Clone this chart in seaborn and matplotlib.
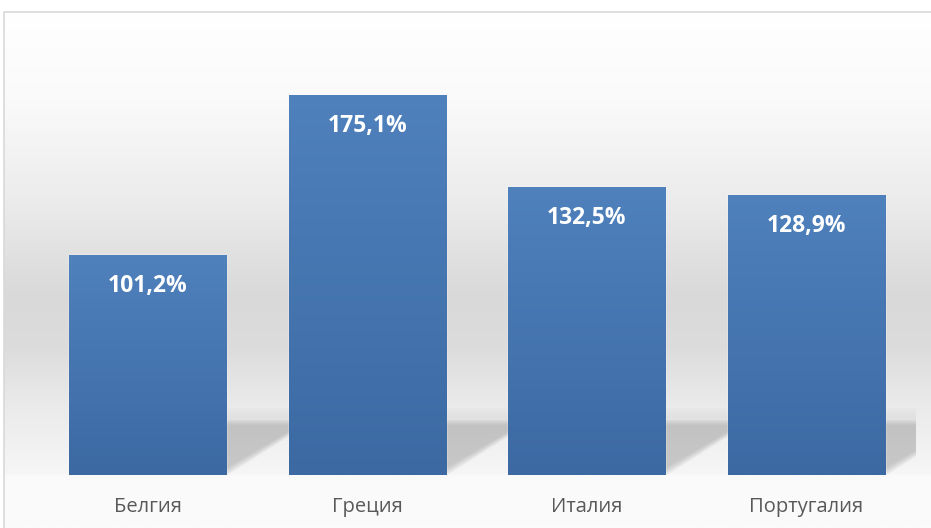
import numpy as np
import pandas as pd
import seaborn as sns
import matplotlib.pyplot as plt
from matplotlib.patches import Polygon, Rectangle
from matplotlib.colors import LinearSegmentedColormap

countries = ["Белгия", "Греция", "Италия", "Португалия"]
debt_pct = [101.2, 175.1, 132.5, 128.9]
value_labels = ["101,2%", "175,1%", "132,5%", "128,9%"]

df = pd.DataFrame({"country": countries, "debt": debt_pct})

sns.set_theme(style="white")
plt.rcParams["font.family"] = ["Open Sans", "DejaVu Sans"]

W, H = 931, 528
fig = plt.figure(figsize=(W / 100, H / 100), dpi=100)
fig.patch.set_facecolor("white")

# background gradient (plot area)
bg = fig.add_axes([4 / W, 0, 1 - 4 / W, (H - 12) / H])
bg.set_axis_off()
stops = [(0.0, "#ffffff"), (0.17, "#fafafa"), (0.36, "#ececec"), (0.55, "#d9d9d9"),
         (0.65, "#dcdcdc"), (0.75, "#e9e9e9"), (0.895, "#f6f6f6"), (0.9, "#fafafa"), (1.0, "#fbfbfb")]
cmap_bg = LinearSegmentedColormap.from_list("bg", stops)
grad = np.linspace(0, 1, 512).reshape(-1, 1)
bg.imshow(grad, aspect="auto", cmap=cmap_bg, extent=[0, 1, 0, 1], origin="upper")
bg.set_xlim(0, 1)
bg.set_ylim(0, 1)

# border
fig.add_artist(Rectangle((4 / W, -0.1), 1.2, (H - 12) / H + 0.1, transform=fig.transFigure,
                         fill=False, edgecolor="#d9d9d9", linewidth=1.2))

ax_left = 37.6 / W
ax_right = 916.3 / W
ax_bottom = 53 / H
ax_top = (H - 30) / H
ax = fig.add_axes([ax_left, ax_bottom, ax_right - ax_left, ax_top - ax_bottom])
ax.patch.set_alpha(0)

sns.barplot(data=df, x="country", y="debt", ax=ax, width=0.715, color="#4a7ab5",
            saturation=1, zorder=3)
ax.set_xlim(-0.5, 3.5)
ymax = 445 / 2.173
ax.set_ylim(0, ymax)

px_x = 1 / 219.7
px_y = 1 / 2.173

cmap_bar = LinearSegmentedColormap.from_list("bar", ["#4f81bd", "#3c69a2"])
for p in ax.patches:
    x0 = p.get_x()
    x1 = x0 + p.get_width()
    h = p.get_height()
    # soft light band above the shadow
    for k in range(4):
        band = Polygon([(x0 + 0.05, 57 * px_y), (x1 + 100 * px_x, 57 * px_y),
                        (x1 + 100 * px_x, (58 + 3 * k) * px_y), (x0 + 0.05, (58 + 3 * k) * px_y)],
                       closed=True, facecolor="#d0d0d0", edgecolor="none", alpha=0.12, zorder=1)
        ax.add_patch(band)
    # blurred shadow layers
    for k in range(8):
        d = k * 2.0
        pts = [(x0 + 0.05, 0), (x1 + (2 - d) * px_x, 0),
               (x1 + (92 - d * 1.3) * px_x, (57 - d * 0.5) * px_y),
               (x0 + 0.05, (57 - d * 0.5) * px_y)]
        ax.add_patch(Polygon(pts, closed=True, facecolor="#a0a0a0", edgecolor="none",
                             alpha=0.085, zorder=1))
    # gradient fill for the bar
    p.set_facecolor("none")
    im = ax.imshow(np.linspace(0, 1, 256).reshape(-1, 1), cmap=cmap_bar, aspect="auto",
                   extent=[x0, x1, 0, h], origin="upper", zorder=3)
    im.set_clip_path(p)

ax.set_xlim(-0.5, 3.5)
ax.set_ylim(0, ymax)

for i, (v, lab) in enumerate(zip(debt_pct, value_labels)):
    ax.annotate(lab, xy=(i, v), xytext=(0, -31 * 0.72), textcoords="offset points",
                ha="center", va="center", color="white", fontsize=16.5, fontweight="bold",
                zorder=5)

ax.set_xlabel("")
ax.set_ylabel("")
ax.set_yticks([])
ax.tick_params(axis="x", length=0, pad=16, labelsize=14.5, labelcolor="#595959")
for s in ax.spines.values():
    s.set_visible(False)

fig.savefig("out.png", dpi=100, facecolor="white")
